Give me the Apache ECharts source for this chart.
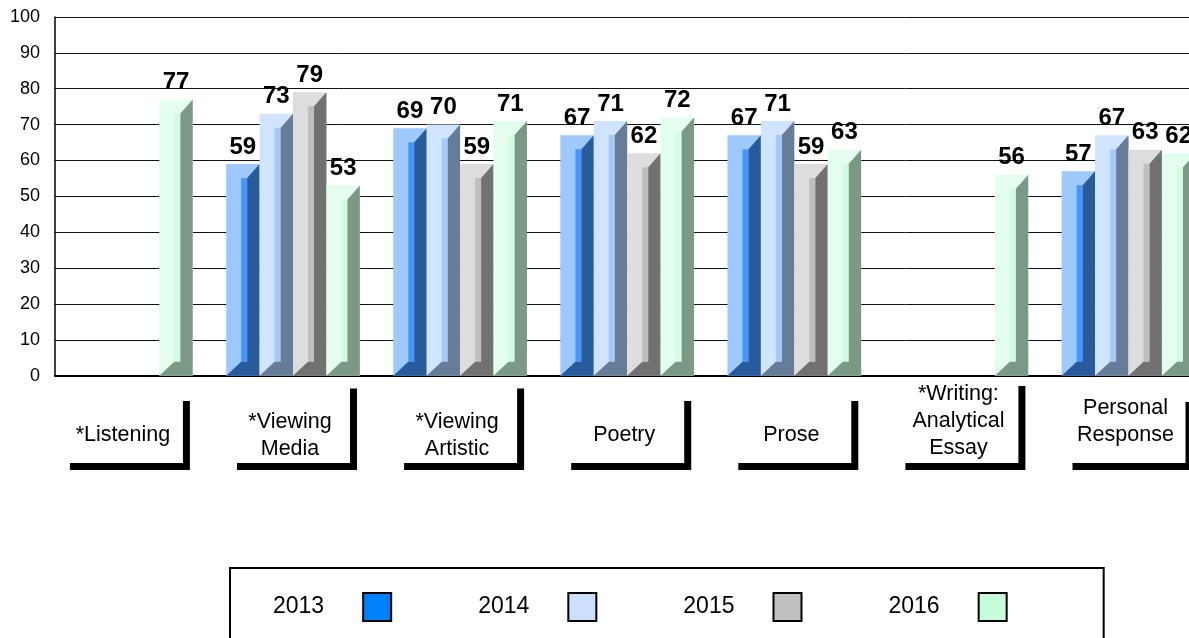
<!DOCTYPE html>
<html>
<head>
<meta charset="utf-8">
<script src="https://cdn.jsdelivr.net/npm/echarts@6/dist/echarts.min.js"></script>
<style>html,body{margin:0;padding:0;background:#fff}#c{width:1189px;height:638px}</style>
</head>
<body>
<div id="c"></div>
<script>
// ---- data ----
const categories = ['*Listening', '*Viewing Media', '*Viewing Artistic', 'Poetry', 'Prose', '*Writing: Analytical Essay', 'Personal Response'];
const categoryLines = [['*Listening'], ['*Viewing', 'Media'], ['*Viewing', 'Artistic'], ['Poetry'], ['Prose'], ['*Writing:', 'Analytical', 'Essay'], ['Personal', 'Response']];
const years = ['2013', '2014', '2015', '2016'];
const v2013 = [null, 59, 69, 67, 67, null, 57];
const v2014 = [null, 73, 70, 71, 71, null, 67];
const v2015 = [null, 79, 59, 62, 59, null, 63];
const v2016 = [77, 53, 71, 72, 63, 56, 62];
const yTicks = [0, 10, 20, 30, 40, 50, 60, 70, 80, 90, 100];

// ---- styles ----
const FONT = "'Liberation Sans', Arial, Helvetica, sans-serif";
const palettes = [
  {outer: '#9fc8fc', inner: '#4596fa', dark: '#275b9c', legend: '#0080ff'},
  {outer: '#d1e4fd', inner: '#a5c9f9', dark: '#677c99', legend: '#cce0fc'},
  {outer: '#dddddd', inner: '#bfbfbf', dark: '#717171', legend: '#c0c0c0'},
  {outer: '#e3fdee', inner: '#d3fbe3', dark: '#7b9985', legend: '#c6fbdc'}
];
// label box padding lines [top, bottom] per category
const labelPads = [[27.5, 14.5], [27.5, 0], [27.5, 0], [27.5, 14.5], [27.5, 14.5], [1.5, 1.5], [0, 14]];
const padStyles = {p0: 27.5, p1: 14.5, p2: 1.5, p3: 14};
function padKey(h) { for (const k in padStyles) if (padStyles[k] === h) return k; return null; }

const allSeries = [v2013, v2014, v2015, v2016];

function makeRender(s) {
  return function (params, api) {
    const v = api.value(1);
    if (v == null || isNaN(v)) return null;
    const i = api.value(0);
    const base = api.coord([i, 0]);
    const top = api.coord([i, v]);
    const catW = api.size([1, 0])[0];
    const bw = catW * 0.8 / 4;
    const x0 = base[0] - 2 * bw + s * bw;
    const x1 = x0 + bw;
    const yT = top[1], yB = base[1];
    const L = bw * 0.45, R = bw * 0.37, T = 14, B = 14;
    const p = palettes[s];
    return {
      type: 'group',
      children: [
        {type: 'rect', shape: {x: x0, y: yT, width: bw, height: yB - yT}, style: {fill: p.outer}},
        {type: 'rect', shape: {x: x0 + L, y: yT + T, width: bw - L - R, height: yB - yT - T - B}, style: {fill: p.inner}},
        {type: 'polygon', shape: {points: [[x0, yB], [x0 + L, yB - B], [x1 - R, yB - B], [x1 - R, yT + T], [x1, yT], [x1, yB]]}, style: {fill: p.dark}},
        {type: 'text', z2: 100, style: {text: String(v), x: (x0 + x1) / 2, y: yT - 5, align: 'center', verticalAlign: 'bottom',
          font: "bold 24px " + FONT, fill: '#000'}}
      ]
    };
  };
}

const rich = {t: {fontSize: 21.5, lineHeight: 27, fontFamily: FONT, color: '#000', align: 'center'}};
for (const k in padStyles) rich[k] = {fontSize: 8, lineHeight: padStyles[k], align: 'center'};

const chart = echarts.init(document.getElementById('c'), null, {renderer: 'canvas'});
chart.setOption({
  animation: false,
  backgroundColor: '#fff',
  grid: [
    {left: 55, top: 17, width: 1134, height: 358.7, outerBoundsMode: 'none'},
    {left: 42.35, top: 17, width: 1169.7, height: 358.7, outerBoundsMode: 'none'},
    {left: 39.35, top: 17, width: 1169.7, height: 358.7, outerBoundsMode: 'none'}
  ],
  xAxis: [
    {gridIndex: 0, type: 'value', min: 0, max: 1, axisLine: {show: true, onZero: false, lineStyle: {color: '#000', width: 2}},
      axisTick: {show: false}, axisLabel: {show: false}, splitLine: {show: false}},
    {gridIndex: 1, type: 'category', data: categories, show: false},
    {gridIndex: 2, type: 'category', data: categories, axisLine: {show: false}, axisTick: {show: false}, splitLine: {show: false},
      axisLabel: {
        interval: 0, margin: 87.3, verticalAlign: 'bottom',
        width: 120, backgroundColor: '#fff', shadowColor: '#000', shadowBlur: 0, shadowOffsetX: 7, shadowOffsetY: 7,
        padding: 0,
        formatter: function (val, idx) {
          const pads = labelPads[idx];
          const parts = [];
          if (pads[0] > 0) parts.push('{' + padKey(pads[0]) + '| }');
          categoryLines[idx].forEach(l => parts.push('{t|' + l + '}'));
          if (pads[1] > 0) parts.push('{' + padKey(pads[1]) + '| }');
          return parts.join('\n');
        },
        rich: rich
      }}
  ],
  yAxis: [
    {gridIndex: 0, type: 'value', min: yTicks[0], max: yTicks[yTicks.length - 1], interval: 10,
      axisLine: {show: true, lineStyle: {color: '#000', width: 1.5}}, axisTick: {show: false},
      axisLabel: {fontSize: 18, color: '#000', fontFamily: FONT, margin: 15},
      splitLine: {show: true, lineStyle: {color: '#111', width: 1}}},
    {gridIndex: 1, type: 'value', min: 0, max: 100, show: false},
    {gridIndex: 2, type: 'value', min: 0, max: 100, show: false}
  ],
  legend: {
    left: 230, top: 568, orient: 'horizontal', align: 'right',
    itemWidth: 28, itemHeight: 28, itemGap: 86, icon: 'rect', selectedMode: false,
    padding: [24, 96, 40, 43], borderColor: '#000', borderWidth: 2,
    textStyle: {fontSize: 23, color: '#000', fontFamily: FONT, padding: [0, 34, 0, 0]},
    data: years.map((y, k) => ({name: y, itemStyle: {color: palettes[k].legend, borderColor: '#000', borderWidth: 2}}))
  },
  series: years.map((y, s) => ({
    name: y, type: 'custom', xAxisIndex: 1, yAxisIndex: 1,
    itemStyle: {color: palettes[s].legend},
    renderItem: makeRender(s),
    encode: {x: 0, y: 1},
    data: allSeries[s].map((v, i) => [i, v == null ? NaN : v])
  }))
});
</script>
</body>
</html>
